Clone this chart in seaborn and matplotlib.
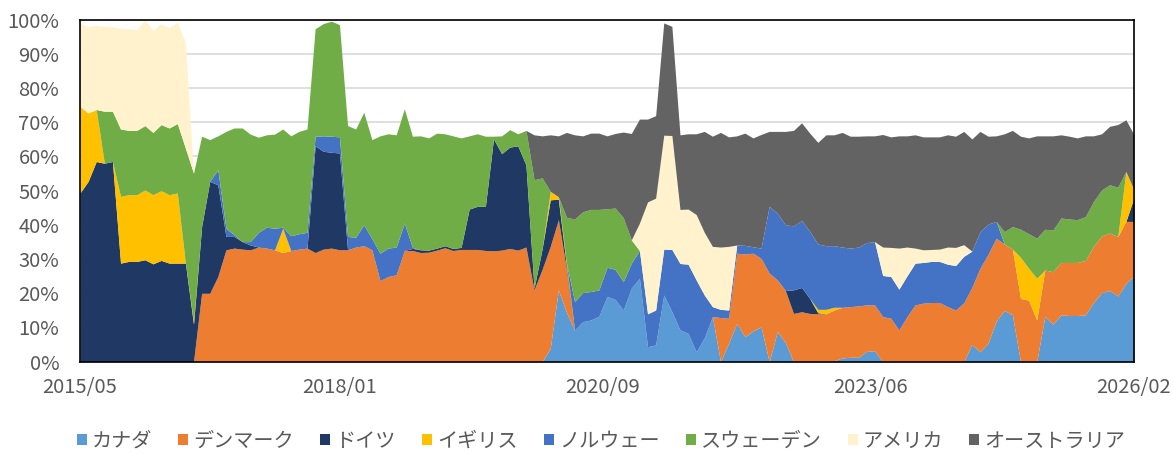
import numpy as np
import matplotlib
matplotlib.use("Agg")
import matplotlib.pyplot as plt
from matplotlib.patches import Patch
import seaborn as sns

# Monthly share (%) by country, stacked in this order from the bottom up
canada = ([0] * 58 + [3.9, 21.0,
          14.4, 9.3, 11.7, 12.2, 13.3, 19.1, 18.2, 15.1, 21.5, 24.4,
          4.4, 4.9, 19.5, 14.6, 9.3, 8.3, 2.9, 7.0, 13.2, 0,
          5.4, 11.2, 7.3, 9.0, 10.2, 0, 8.8, 5.6, 0, 0,
          0, 0, 0, 0.3, 1.1, 1.3, 1.3, 3.0, 3.2, 0,
          0, 0, 0, 0, 0, 0, 0, 0, 0, 0,
          5.1, 2.9, 5.4, 11.9, 15.0, 13.7, 0, 0, 0, 13.2,
          11.0, 13.7, 13.5, 13.5, 13.7, 17.3, 20.2, 20.8, 19.2, 22.9,
          25.1])

denmark = ([0] * 15 + [20.0, 20.0, 24.9, 32.7, 33.2,
           32.9, 32.7, 33.5, 33.2, 32.7, 31.9, 32.5, 32.9, 33.2, 31.9,
           32.9, 33.2, 32.7, 32.7, 33.5, 33.9, 32.7, 23.7, 24.9, 25.4,
           32.5, 32.5, 31.9, 32.0, 32.6, 33.3, 32.5, 32.8, 32.8, 32.8,
           32.5, 32.4, 32.6, 33.1, 32.6, 33.5, 21.0, 27.0, 29.8, 20.5,
           12.6] + [0] * 18 + [12.9,
           7.3, 20.5, 24.2, 22.7, 20.0, 25.9, 15.1, 15.2, 14.1, 14.6,
           14.1, 14.0, 14.0, 14.8, 14.8, 14.8, 15.0, 13.6, 13.4, 13.2,
           12.7, 9.3, 13.2, 16.6, 17.1, 17.3, 17.3, 16.1, 15.1, 17.2,
           16.6, 24.4, 26.0, 24.2, 19.4, 19.2, 18.5, 18.0, 12.2, 13.6,
           15.3, 15.3, 15.5, 15.5, 15.9, 16.4, 16.6, 16.8, 17.4, 18.1,
           15.9])

germany = ([49.3, 52.7, 58.5, 58.0, 58.5, 28.8, 29.3, 29.3, 29.8, 28.6,
            29.6, 28.8, 28.8, 28.8, 11.0, 19.5, 32.7, 26.8, 3.9, 3.4,
            2.2, 1.4, 0, 0, 0, 0, 0, 0, 0, 31.2,
            28.6, 28.0, 28.3, 0, 0, 0, 0, 0, 0, 0,
            0, 0.6, 0.8, 0.6, 0.6, 0.6, 0.6, 0.6, 11.8, 12.6,
            12.9, 32.7, 28.2, 29.6, 30.5, 24.0, 0.5, 6.0, 13.6, 6.0,
            1.0] + [0] * 27 + [6.9, 7.1,
            4.4, 0.3] + [0] * 38 + [7.0])

uk = ([25.3, 20.0, 15.2, 0, 0, 19.5, 19.5, 19.5, 20.4, 20.2,
       20.4, 20.0, 20.5, 0, 0.7, 0, 0, 0, 0, 0,
       0, 0, 0, 0, 0, 7.1] + [0] * 32 + [2.5, 0.7,
       0.8] + [0] * 30 + [1.0, 1.3, 0.8] + [0] * 22 + [12.0, 9.3, 12.2]
      + [0] * 10 + [14.6, 2.2])

norway = ([0] * 17 + [4.4, 2.4, 0.5,
          0, 1.0, 4.3, 6.1, 6.3, 0.3, 4.3, 4.5, 4.6, 2.8,
          4.5, 4.7, 4.7, 3.9, 2.9, 6.1, 3.3, 8.0, 8.3, 8.1,
          8.0, 0.3] + [0] * 19 + [8.3, 8.5, 8.3, 7.7, 8.5, 8.8, 8.3, 7.3, 8.1,
          9.6, 10.2, 13.4, 18.2, 19.4, 20.2, 21.0, 12.5, 2.9, 2.4,
          2.4, 2.4, 2.5, 1.9, 3.0, 19.5, 19.5, 19.2, 18.7, 19.6,
          19.6, 19.1, 18.6, 18.0, 17.6, 17.1, 17.2, 18.2, 18.5, 12.0,
          12.2, 11.9, 11.9, 12.2, 11.9, 12.0, 12.0, 12.4, 13.0, 13.6,
          10.6, 10.7, 8.8, 4.9] + [0] * 17)

sweden = ([0, 0, 0, 15.2, 14.7, 19.7, 18.8, 18.8, 18.8, 18.2,
           19.3, 19.5, 20.3, 33.6, 43.4, 26.4, 12.2, 9.9, 28.3, 31.2,
           33.2, 31.4, 27.8, 27.0, 27.5, 28.7, 29.2, 29.9, 30.2, 31.4,
           32.8, 33.6, 32.8, 32.4, 31.6, 32.9, 28.9, 34.3, 33.4, 32.8,
           33.4, 32.5, 33.3, 32.8, 33.6, 32.7, 32.9, 32.0, 21.4, 21.2,
           20.5, 0.8, 5.2, 5.1, 3.5, 10.1, 31.7, 20.7, 0, 0,
           13.4, 24.1, 23.6, 24.0, 23.5, 17.1, 17.9, 18.7, 6.8]
          + [0] * 45 + [3.6, 6.6, 8.2, 10.1, 11.7, 11.9,
           12.2, 13.0, 12.7, 12.5, 12.8, 13.1, 13.4, 14.1, 14.4, 0,
           0])

usa = ([24.4, 25.2, 24.6, 24.8, 24.7, 29.4, 29.7, 29.5, 30.8, 29.9,
        29.5, 29.3, 29.6, 30.8] + [0] * 55 + [8.0,
        32.7, 32.7, 33.3, 33.3, 15.8, 16.1, 19.1, 18.3, 17.6, 18.2,
        18.6] + [0] * 18 + [8.3,
        8.5, 12.0, 8.4, 4.4, 3.7, 3.5, 3.6, 5.0, 5.3, 3.4] + [0] * 21)

australia = ([0] * 56 + [13.1, 12.3, 16.5, 17.8,
             24.8, 24.6, 22.2, 22.3, 22.3, 21.3, 21.8, 25.0, 31.1, 30.4,
             24.2, 24.1, 32.8, 31.9, 21.8, 22.0, 23.6, 29.5, 32.2, 33.5,
             32.0, 31.9, 32.8, 31.8, 33.2, 21.9, 23.9, 27.3, 27.9, 28.5,
             28.7, 29.7, 32.4, 32.4, 33.5, 32.7, 32.4, 31.2, 30.9, 32.9,
             32.3, 32.8, 32.5, 33.1, 33.0, 32.9, 32.8, 32.8, 32.5, 33.1,
             32.8, 29.3, 25.7, 25.0, 28.6, 28.1, 27.2, 28.0, 29.9, 27.3,
             27.5, 24.3, 24.2, 23.9, 23.6, 19.2, 16.4, 17.1, 18.3, 15.1,
             16.1])

labels = ["カナダ", "デンマーク", "ドイツ", "イギリス",
          "ノルウェー", "スウェーデン", "アメリカ", "オーストラリア"]
colors = ["#5B9BD5", "#ED7D31", "#203864", "#FFC000",
          "#4472C4", "#70AD47", "#FFF2CC", "#636363"]

tick_labels = ["2015/05", "2018/01", "2020/09", "2023/06", "2026/02"]
tick_positions = [0, 32, 64.5, 97.5, 130]

sns.set_theme(style="white")
plt.rcParams["font.family"] = ["Noto Sans CJK JP", "DejaVu Sans"]

series = [canada, denmark, germany, uk, norway, sweden, usa, australia]
x = np.arange(len(canada))

fig = plt.figure(figsize=(11.73, 4.54), dpi=100)
ax = fig.add_axes([80 / 1173, 92.3 / 454, 1054 / 1173, 342.2 / 454])

ax.stackplot(x, *[np.asarray(s, dtype=float) for s in series],
             colors=colors, labels=labels, linewidth=0)

ax.set_xlim(0, len(canada) - 1)
ax.set_ylim(0, 100)
ax.set_yticks(np.arange(0, 101, 10))
ax.set_yticklabels([f"{v}%" for v in range(0, 101, 10)])
ax.set_xticks(tick_positions)
ax.set_xticklabels(tick_labels)

ax.set_axisbelow(True)
ax.yaxis.grid(True, color="#D9D9D9", linewidth=1.2)
ax.xaxis.grid(False)
for side in ["left", "right", "top", "bottom"]:
    ax.spines[side].set_visible(True)
    ax.spines[side].set_color("#000000")
    ax.spines[side].set_linewidth(1.2)

ax.tick_params(axis="y", length=0, pad=15, labelsize=14.5, labelcolor="#595959")
ax.tick_params(axis="x", length=0, pad=11, labelsize=14.5, labelcolor="#595959")

handles = [Patch(facecolor=c, edgecolor="none") for c in colors]
fig.legend(handles, labels, loc="center", ncol=8,
           bbox_to_anchor=(601 / 1173, 1 - 441 / 454), frameon=False,
           fontsize=14.5, labelcolor="#595959",
           handlelength=0.5, handleheight=0.5, handletextpad=0.25,
           columnspacing=1.3, borderaxespad=0)

fig.savefig("out.png", dpi=100)
